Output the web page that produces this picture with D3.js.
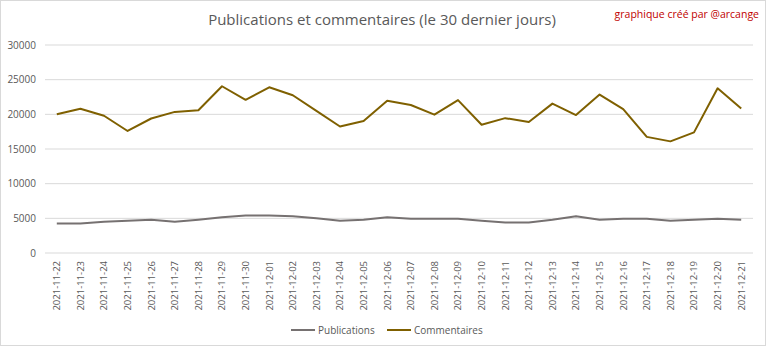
<!DOCTYPE html>
<html><head><meta charset="utf-8">
<script src="https://cdn.jsdelivr.net/npm/d3@7"></script>
<style>body{margin:0;background:#fff}svg{display:block}</style>
</head><body>
<svg id="c" width="768" height="349"></svg>
<script>
const dates = ["2021-11-22","2021-11-23","2021-11-24","2021-11-25","2021-11-26","2021-11-27","2021-11-28","2021-11-29","2021-11-30","2021-12-01","2021-12-02","2021-12-03","2021-12-04","2021-12-05","2021-12-06","2021-12-07","2021-12-08","2021-12-09","2021-12-10","2021-12-11","2021-12-12","2021-12-13","2021-12-14","2021-12-15","2021-12-16","2021-12-17","2021-12-18","2021-12-19","2021-12-20","2021-12-21"];
const publications = [4250,4250,4500,4650,4800,4500,4800,5150,5400,5400,5300,5000,4650,4800,5150,4950,4950,4950,4650,4400,4400,4800,5300,4800,4950,4950,4650,4800,4950,4800];
const commentaires = [20000,20800,19800,17600,19400,20350,20600,24050,22100,23900,22750,20500,18250,19050,21950,21350,19950,22050,18500,19450,18900,21550,19900,22850,20750,16750,16100,17400,23750,20850];
const yTicks = [0,5000,10000,15000,20000,25000,30000];

const svg = d3.select("#c");
const font = "'Open Sans', sans-serif";
svg.append("rect").attr("x",0.5).attr("y",0.5).attr("width",765).attr("height",345)
  .attr("fill","#fff").attr("stroke","#d9d9d9");

const x = d3.scaleBand().domain(dates).range([45,753]);
const y = d3.scaleLinear().domain([0,30000]).range([253,45]);

// gridlines
svg.append("g").selectAll("line").data(yTicks).join("line")
  .attr("x1",45).attr("x2",753).attr("y1",d=>y(d)).attr("y2",d=>y(d))
  .attr("stroke","#d9d9d9").attr("stroke-width",1);

// y axis
const ya = svg.append("g").attr("transform","translate(45,0)")
  .call(d3.axisLeft(y).tickValues(yTicks).tickFormat(d3.format("d")).tickSize(0).tickPadding(9));
ya.select(".domain").remove();
ya.selectAll("text").attr("fill","#595959").style("font-family",font).style("font-size","10px");

// x axis
const xa = svg.append("g").attr("transform","translate(0,253)")
  .call(d3.axisBottom(x).tickSize(0));
xa.select(".domain").remove();
xa.selectAll("text").attr("fill","#595959").style("font-family",font).style("font-size","9.5px")
  .attr("text-anchor","end").attr("transform","rotate(-90)").attr("x",-8).attr("y",0).attr("dy","0.35em");

const cx = d => x(d) + x.bandwidth()/2;
const line = vals => d3.line().x((d,i)=>cx(dates[i])).y(d=>y(d))(vals);

svg.append("path").attr("d",line(publications)).attr("fill","none")
  .attr("stroke","#767171").attr("stroke-width",2).attr("stroke-linejoin","round");
svg.append("path").attr("d",line(commentaires)).attr("fill","none")
  .attr("stroke","#7f6000").attr("stroke-width",2).attr("stroke-linejoin","round");

// title
svg.append("text").attr("x",382).attr("y",25).attr("text-anchor","middle")
  .attr("fill","#595959").style("font-family",font).style("font-size","15px")
  .text("Publications et commentaires (le 30 dernier jours)");
svg.append("text").attr("x",759).attr("y",18).attr("text-anchor","end")
  .attr("fill","#c00000").style("font-family",font).style("font-size","10.5px")
  .text("graphique créé par @arcange");

// legend
const leg = [{n:"Publications",c:"#767171",x:291},{n:"Commentaires",c:"#7f6000",x:387}];
const lg = svg.append("g");
leg.forEach(l=>{
  lg.append("line").attr("x1",l.x).attr("x2",l.x+24).attr("y1",330).attr("y2",330)
    .attr("stroke",l.c).attr("stroke-width",2);
  lg.append("text").attr("x",l.x+27).attr("y",330).attr("dy","0.35em")
    .attr("fill","#595959").style("font-family",font).style("font-size","10px").text(l.n);
});
</script>
</body></html>
